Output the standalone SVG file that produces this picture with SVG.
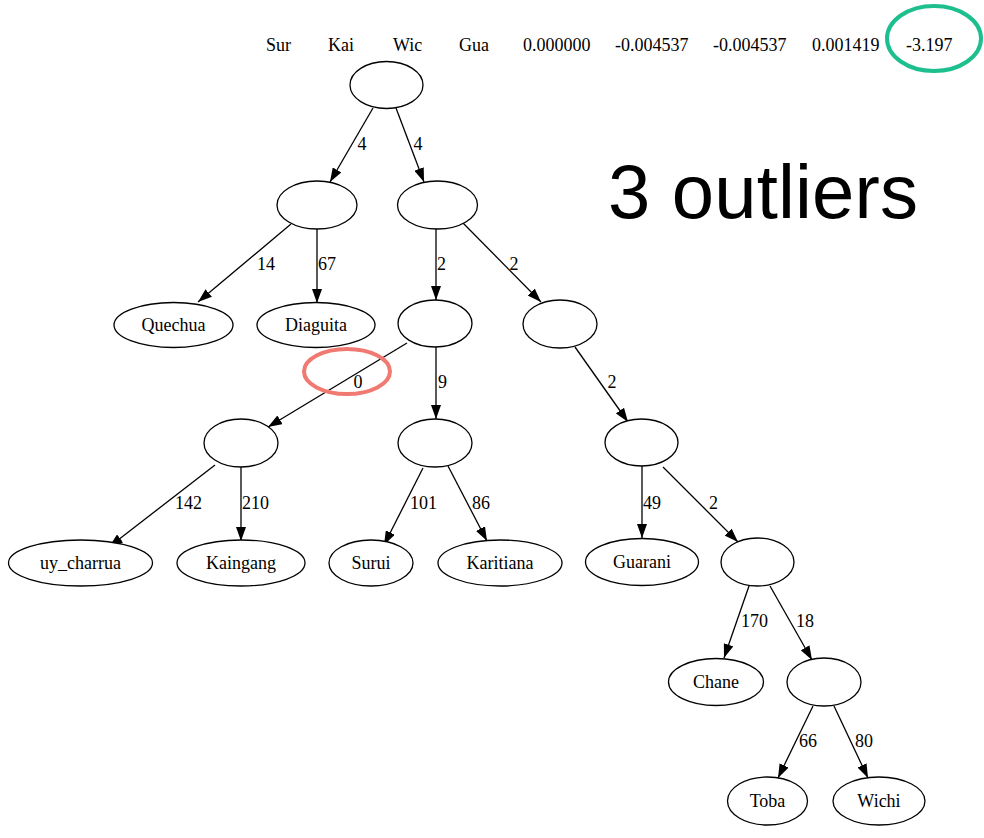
<svg xmlns="http://www.w3.org/2000/svg" width="984" height="838" viewBox="0 0 984 838">
<defs>
<style>
.n ellipse{fill:#fff;stroke:#000;stroke-width:1.3}
.n text,.lbl,.hdr{font-family:"Liberation Serif","Times New Roman",serif;font-size:18px;fill:#000}
.n text{text-anchor:middle}
.e line{stroke:#000;stroke-width:1.3;marker-end:url(#ah)}
.big{font-family:"Liberation Sans",Arial,sans-serif;font-size:76px;fill:#000}
</style>
<marker id="ah" markerUnits="userSpaceOnUse" markerWidth="14" markerHeight="10" refX="14" refY="5" orient="auto" viewBox="0 0 14 10">
<path d="M0,0 L14,5 L0,10 z" fill="#000"/>
</marker>
</defs>
<rect width="984" height="838" fill="#fff"/>

<g id="header">
<text class="hdr" x="266" y="51">Sur</text>
<text class="hdr" x="328" y="51">Kai</text>
<text class="hdr" x="393" y="51">Wic</text>
<text class="hdr" x="459" y="51">Gua</text>
<text class="hdr" x="523" y="51">0.000000</text>
<text class="hdr" x="615" y="51">-0.004537</text>
<text class="hdr" x="713" y="51">-0.004537</text>
<text class="hdr" x="812" y="51">0.001419</text>
<text class="hdr" x="906" y="51">-3.197</text>
</g>
<ellipse id="green-mark" cx="934" cy="38.5" rx="47" ry="32.5" fill="none" stroke="#1dbf8e" stroke-width="4"/>
<text id="outliers" class="big" x="608" y="218" textLength="310">3 outliers</text>

<g id="edges" class="e">
<line x1="373" y1="108" x2="330" y2="182"/>
<line x1="396" y1="108" x2="424" y2="182"/>
<line x1="291" y1="224" x2="198" y2="302"/>
<line x1="317" y1="229" x2="317" y2="303"/>
<line x1="436" y1="229" x2="436" y2="300"/>
<line x1="462" y1="222" x2="541" y2="302"/>
<line x1="407" y1="343" x2="268" y2="427"/>
<line x1="436" y1="347" x2="436" y2="419"/>
<line x1="575" y1="347" x2="628" y2="422"/>
<line x1="215" y1="465" x2="109" y2="547"/>
<line x1="241" y1="467" x2="241" y2="541"/>
<line x1="423" y1="468" x2="384" y2="545"/>
<line x1="448" y1="466" x2="487" y2="541"/>
<line x1="642" y1="466" x2="642" y2="538"/>
<line x1="663" y1="467" x2="738" y2="542"/>
<line x1="749" y1="586" x2="724" y2="658"/>
<line x1="770" y1="586" x2="812" y2="660"/>
<line x1="813" y1="706" x2="778" y2="778"/>
<line x1="834" y1="706" x2="868" y2="778"/>
</g>
<g id="edge-labels">
<text class="lbl" x="357.5" y="150">4</text>
<text class="lbl" x="413.5" y="150">4</text>
<text class="lbl" x="257" y="270">14</text>
<text class="lbl" x="318" y="270">67</text>
<text class="lbl" x="437" y="270">2</text>
<text class="lbl" x="509.5" y="270">2</text>
<text class="lbl" x="353.5" y="388">0</text>
<text class="lbl" x="438" y="388">9</text>
<text class="lbl" x="607.5" y="388">2</text>
<text class="lbl" x="175" y="509">142</text>
<text class="lbl" x="242" y="509">210</text>
<text class="lbl" x="410" y="509">101</text>
<text class="lbl" x="472" y="509">86</text>
<text class="lbl" x="643" y="509">49</text>
<text class="lbl" x="709" y="509">2</text>
<text class="lbl" x="741" y="627">170</text>
<text class="lbl" x="796" y="627">18</text>
<text class="lbl" x="799" y="747">66</text>
<text class="lbl" x="855" y="747">80</text>
</g>
<ellipse id="red-mark" cx="347" cy="371.5" rx="43" ry="22.5" fill="none" stroke="#f07a72" stroke-width="4"/>

<g id="root" class="n"><ellipse cx="386.5" cy="85" rx="36.5" ry="23.5"/></g>
<g id="n_left" class="n"><ellipse cx="317" cy="205" rx="40" ry="24"/></g>
<g id="n_right" class="n"><ellipse cx="437.5" cy="205" rx="40" ry="24"/></g>
<g id="quechua" class="n"><ellipse cx="173.5" cy="325" rx="59.5" ry="22.5"/><text x="173.5" y="331">Quechua</text></g>
<g id="diaguita" class="n"><ellipse cx="316" cy="325" rx="59" ry="22.5"/><text x="316" y="331">Diaguita</text></g>
<g id="n2" class="n"><ellipse cx="435" cy="323.5" rx="37" ry="23.5"/></g>
<g id="n3" class="n"><ellipse cx="560" cy="324" rx="37" ry="24"/></g>
<g id="na" class="n"><ellipse cx="241" cy="443" rx="37" ry="24"/></g>
<g id="nb" class="n"><ellipse cx="435" cy="443" rx="37" ry="24"/></g>
<g id="n5" class="n"><ellipse cx="641.5" cy="442.5" rx="36.5" ry="23.5"/></g>
<g id="uy_charrua" class="n"><ellipse cx="80.5" cy="563" rx="72" ry="23"/><text x="80.5" y="569">uy_charrua</text></g>
<g id="kaingang" class="n"><ellipse cx="241" cy="563" rx="64" ry="23"/><text x="241" y="569">Kaingang</text></g>
<g id="surui" class="n"><ellipse cx="371" cy="563" rx="42" ry="23"/><text x="371" y="569">Surui</text></g>
<g id="karitiana" class="n"><ellipse cx="500" cy="563" rx="62" ry="23"/><text x="500" y="569">Karitiana</text></g>
<g id="guarani" class="n"><ellipse cx="642" cy="562" rx="56.5" ry="23.5"/><text x="642" y="568">Guarani</text></g>
<g id="n6" class="n"><ellipse cx="757.5" cy="562" rx="36.5" ry="24"/></g>
<g id="chane" class="n"><ellipse cx="716" cy="682" rx="47.5" ry="23.5"/><text x="716" y="688">Chane</text></g>
<g id="n7" class="n"><ellipse cx="824" cy="682" rx="37" ry="24"/></g>
<g id="toba" class="n"><ellipse cx="767.5" cy="801" rx="40" ry="24"/><text x="767.5" y="807">Toba</text></g>
<g id="wichi" class="n"><ellipse cx="879" cy="801" rx="46" ry="24"/><text x="879" y="807">Wichi</text></g>
</svg>
